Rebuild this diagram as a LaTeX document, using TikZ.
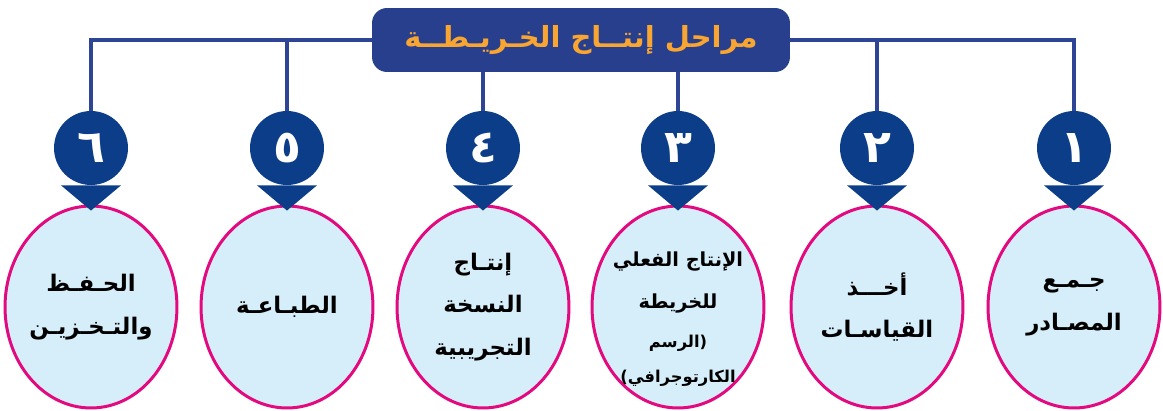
\documentclass[tikz,border=0pt]{standalone}
\usepackage{fontspec}
\usetikzlibrary{shapes.geometric}
\newfontfamily\arabicfont[Script=Arabic]{DejaVu Sans}
\TeXXeTstate=1

\definecolor{titleblue}{HTML}{283F8E}
\definecolor{lineblue}{HTML}{2D4594}
\definecolor{stepblue}{HTML}{0B3D89}
\definecolor{titleorange}{HTML}{F8A532}
\definecolor{cellfill}{HTML}{D6EEFA}
\definecolor{cellpink}{HTML}{E3097F}

\newcommand{\artext}[1]{\beginR #1\endR}

\begin{document}
\begin{tikzpicture}[x=0.02cm, y=-0.02cm,
    titlebox/.style={fill=titleblue, rounded corners=0.3cm, minimum width=8.36cm, minimum height=1.28cm,
        text=titleorange, font=\arabicfont\bfseries\fontsize{16.5}{22}\selectfont},
    link/.style={lineblue, line width=2.3pt},
    stepnum/.style={circle, fill=stepblue, minimum size=1.48cm, inner sep=0pt, text=white,
        font=\arabicfont\bfseries\fontsize{26}{30}\selectfont},
    stage/.style={ellipse, draw=cellpink, fill=cellfill, line width=1.7pt, minimum width=3.44cm,
        minimum height=4.04cm, inner xsep=-12pt, inner ysep=0pt, align=center,
        font=\arabicfont\bfseries\fontsize{13}{24.4}\selectfont}]

    \useasboundingbox (0,0) rectangle (1163,410);

    % Title
    \node[titlebox] (title) at (581,40) {\artext{مراحل إنتــاج الخـريـطــة}};

    % Stages (ellipses)
    \node[stage] (s1) at (1074,307) {\artext{جـمـع}\\\artext{المصـادر}};
    \node[stage] (s2) at (877,307) {\artext{أخـــذ}\\\artext{القياسـات}};
    \node[stage, inner ysep=-18pt] (s3) at (678,307) {{\fontsize{11}{22}\selectfont\rule{0pt}{22pt}\artext{الإنتاج الفعلي}}\\[-0.5pt]
        {\fontsize{11}{22}\selectfont\artext{للخريطة}}\\[-2pt]
        {\fontsize{9.3}{18}\selectfont\artext{(الرسم}}\\[-4.5pt]{\fontsize{9.3}{18}\selectfont\artext{الكارتوجرافي)}}};
    \node[stage] (s4) at (483,307) {\artext{إنتـاج}\\\artext{النسخة}\\\artext{التجريبية}};
    \node[stage] (s5) at (287,307) {\artext{الطبـاعـة}};
    \node[stage] (s6) at (91,307) {\artext{الحـفـظ}\\\artext{والتـخـزيـن}};

    % Step numbers
    \node[stepnum] (n1) at (1074,148) {١};
    \node[stepnum] (n2) at (877,148) {٢};
    \node[stepnum] (n3) at (678,148) {٣};
    \node[stepnum] (n4) at (483,148) {٤};
    \node[stepnum] (n5) at (287,148) {٥};
    \node[stepnum] (n6) at (91,148) {٦};

    % Links from the title
    \draw[link] (title.west) -| (n6.north);
    \draw[link] (title.east) -| (n1.north);
    \draw[link] (n5.north) -- (n5.north |- title.west);
    \draw[link] (n2.north) -- (n2.north |- title.east);
    \draw[link] (n4.north) -- (n4.north |- title.south);
    \draw[link] (n3.north) -- (n3.north |- title.south);

    % Arrows into the stages
    \foreach \i in {1,...,6}
        \fill[stepblue] ([xshift=-0.6cm]n\i.south) -- ([xshift=0.6cm]n\i.south)
            -- ([yshift=-0.12cm]s\i.north) -- cycle;
\end{tikzpicture}
\end{document}
